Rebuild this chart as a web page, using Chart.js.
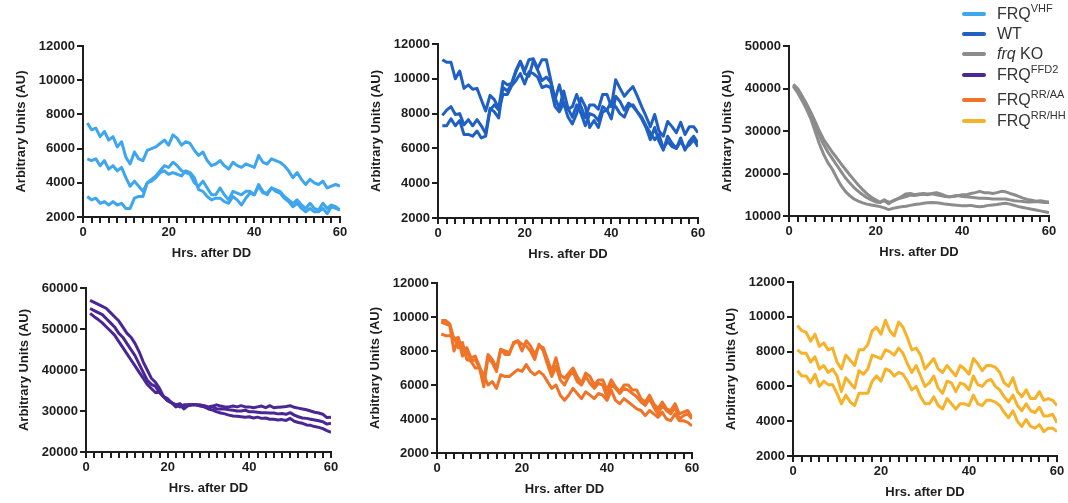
<!DOCTYPE html>
<html lang="en">
<head>
    <meta charset="UTF-8">
    <title>Rhythm traces after DD</title>
    <script src="https://cdn.jsdelivr.net/npm/chart.js@4.4.0/dist/chart.umd.min.js"></script>
    <style>
        html, body { margin: 0; padding: 0; background: #fff; overflow: hidden; }
        body { width: 1068px; height: 503px; position: relative; font-family: "Liberation Sans", Arial, sans-serif; }
        canvas { position: absolute; }
        .item { position: absolute; left: 962px; white-space: nowrap; font-size: 16px; color: #333; line-height: 18px; height: 18px; }
        .swatch { display: inline-block; width: 24px; height: 4px; border-radius: 2px; vertical-align: middle; margin-right: 11px; position: relative; top: -1px; }
        .item sup { font-size: 11px; line-height: 0; position: relative; top: -1px; }
    </style>
</head>
<body>
    <canvas id="p1" width="350" height="231" style="left:0px;top:36px"></canvas>
    <canvas id="p2" width="353" height="234" style="left:355px;top:34px"></canvas>
    <canvas id="p3" width="353" height="230" style="left:706px;top:36px"></canvas>
    <canvas id="p4" width="338" height="224" style="left:3px;top:278px"></canvas>
    <canvas id="p5" width="348" height="230" style="left:354px;top:273px"></canvas>
    <canvas id="p6" width="357" height="234" style="left:710px;top:272px"></canvas>
    <div id="legend"></div>

    <script>
        // hours after transfer to constant darkness
        const hours = [1,2,3,4,5,6,7,8,9,10,11,12,13,14,15,16,17,18,19,20,
            21,22,23,24,25,26,27,28,29,30,31,32,33,34,35,36,37,38,39,40,
            41,42,43,44,45,46,47,48,49,50,51,52,53,54,55,56,57,58,59,60];

        // x tick marks every 2 h, labels only every 20 h
        const xTickMarks = [0,2,4,6,8,10,12,14,16,18,20,22,24,26,28,30,32,34,36,38,40,42,44,46,48,50,52,54,56,58,60];
        const xTickLabels = [0, 20, 40, 60];

        const strainNames = ['FRQ<sup>VHF</sup>', 'WT', '<i>frq</i> KO', 'FRQ<sup>FFD2</sup>', 'FRQ<sup>RR/AA</sup>', 'FRQ<sup>RR/HH</sup>'];
        const strainColors = ['#3ea6ee', '#1f60c2', '#8c8c8c', '#4a2794', '#f07428', '#f5b22a'];

        const vhfA = [7500,7100,7200,6700,7000,6500,6700,6100,6400,5500, 5100,5800,5400,5300,5900,6000,6100,6300,6500,6200,
            6800,6600,6200,6400,6300,5900,5600,5800,5300,5000, 5100,5300,5000,4800,5200,5000,4900,5100,5000,4900,
            5600,5200,5100,5400,5300,5200,5000,4700,4300,4600, 4200,3900,4200,4000,3900,4100,3700,3800,3900,3800];
        const vhfB = [5400,5300,5400,5000,5300,4800,5000,4700,4900,4300, 3800,4100,3800,3500,4000,4200,4400,4700,5000,4900,
            5200,5000,4700,4600,4500,4000,3800,4100,3700,3300, 3300,3700,3300,3000,3500,3400,3300,3500,3500,3300,
            3800,3400,3400,3700,3600,3500,3200,3000,2800,3000, 2700,2500,2800,2500,2400,2800,2500,2700,2600,2400];
        const vhfC = [3200,3000,3100,2800,2900,2700,2900,2700,2800,2500, 2500,3100,3200,3200,4000,4100,4300,4600,4700,4500,
            4600,4500,4400,4700,4600,4300,3600,3500,3200,3000, 3100,3100,2900,2800,3200,3000,2700,3100,3400,3300,
            3900,3500,3300,3700,3500,3400,3100,2900,2600,2800, 2500,2300,2500,2300,2300,2500,2200,2600,2500,2400];

        const wtA = [11100,10950,10950,10000,10450,9450,9650,9400,9450,8800, 8150,9050,8800,8300,9850,9650,9750,10500,11000,10450,
            11100,11150,10600,11100,11100,9950,8800,9650,8600,8250, 8400,9100,8400,7750,8500,8500,8250,9100,9100,8400,
            9950,9450,9000,9300,9550,9000,8400,7850,7250,7950, 7000,6700,7550,7250,6900,7500,6800,7250,7250,6900];
        const wtB = [7900,8200,8400,7950,8000,7350,7650,7300,7650,7300, 6850,8300,8100,7750,9500,9300,9700,10400,11000,10300,
            10150,11050,10500,9900,10100,9800,8900,8300,9300,8300, 7800,8500,8000,7300,8000,7900,7600,8400,8200,7700,
            9000,8700,8200,8600,8400,8100,7700,7200,6500,7200, 6400,5900,6700,6300,6000,6600,5900,6400,6700,6300];
        const wtC = [7300,7300,7700,7300,7600,6800,6800,6700,7000,6600, 6700,8200,8500,8200,9100,9100,9600,9900,10300,9700,
            10400,10300,10100,9500,9600,9500,8400,8100,8600,7800, 7400,8000,8900,8400,7200,7600,7200,8100,8200,8700,
            8400,8000,7800,8400,8500,8100,7800,7300,6900,6500, 6800,6000,6400,6100,6000,6400,6000,6200,6500,6100];

        const koA = [40500,39000,37200,35200,33000,30000,27000,24500,22500,21000, 19000,17200,15800,14800,14000,13500,13100,12800,12600,12400,
            12200,11900,11500,11800,12000,12200,12300,12500,12700,12800, 13000,13100,13200,13100,13000,12800,12700,12600,12500,12400,
            12400,12500,12300,12200,12300,12500,12600,12700,12900,13000, 12800,12500,12200,12000,11800,11600,11400,11200,11000,10800];
        const koB = [40800,39500,37800,35800,33800,31500,29000,26800,25000,23500, 22000,20500,19000,17800,16700,15800,15000,14300,13800,13300,
            13200,13600,12900,13600,14000,14300,14600,14900,14800,15000, 15100,15000,15200,15000,14800,14600,14500,14700,14800,14600,
            14500,14400,14300,14200,14200,14100,14000,14000,14000,14000, 13800,13600,13500,13400,13300,13300,13400,13300,13200,13200];
        const koC = [41000,40000,38300,36500,34500,32300,30000,28000,26500,25000, 23700,22300,21000,19700,18500,17300,16200,15200,14400,13800,
            13200,13800,13200,13500,14000,14600,15200,15300,15000,15200, 15300,15200,15300,15500,15200,14800,14500,14600,14800,15000,
            15000,15300,15500,15800,15500,15500,15300,15500,15800,15700, 15300,15000,14600,14200,13900,13700,13500,13600,13400,13300];

        const ffdA = [57000,56500,56000,55500,55000,54000,53000,52000,50500,49000, 48000,46500,44500,42000,40000,38000,37000,35500,33500,32500,
            32000,31500,31000,31500,31500,31500,31500,31500,31300,31000, 31200,31500,31200,31000,31000,31200,31000,31300,31000,31000,
            30800,31000,31200,30800,31300,30800,30900,31000,31100,31300, 30900,30700,30500,30300,30000,29700,29500,29200,28400,28500];
        const ffdB = [55000,54500,54000,53500,52500,51500,50500,49000,48000,46500, 45000,43500,41500,39500,37500,36500,36000,34500,33500,33000,
            32000,31500,31800,31000,31500,31500,31500,31300,31000,30800, 31000,30500,30500,30500,30300,30200,30000,30000,30200,29800,
            29800,29700,29600,29600,29500,29500,29300,29400,29200,29600, 29000,28600,28300,28200,28000,27800,27600,27400,26800,27000];
        const ffdC = [53800,53000,52300,51500,50500,49500,48500,47000,45500,44000, 42500,41000,39500,38000,36500,35500,34500,34500,33500,32500,
            32000,31000,31500,30500,31300,31500,31500,31200,31000,30500, 30200,29800,29500,29300,29000,28800,28700,28600,28500,28600,
            28300,28500,28200,28300,28000,28000,27800,27900,27700,28200, 27500,27200,27000,26600,26500,26200,26000,25700,25200,24800];

        const aaA = [9800,9800,9600,8700,8800,8000,8200,7600,7700,7100, 6300,7800,7500,7000,8100,8000,7900,8400,8600,8000,
            8600,8300,7800,8300,8200,7500,6800,7600,6600,6400, 6700,7000,6500,6100,6700,6500,6000,6300,6300,5700,
            6300,5900,5600,6000,6000,5700,5700,5200,5000,5400, 4900,4600,5000,4600,4500,4900,4300,4400,4500,4100];
        const aaB = [9700,9600,9500,8000,8700,7700,8000,7400,7500,7000, 5900,7600,7300,6800,8100,7800,7800,8500,8600,8400,
            8300,8000,7500,8400,8000,7200,6500,7100,6300,6000, 6500,6800,6200,6000,6500,6100,5800,6100,6000,5300,
            6000,5800,5500,5800,5700,5500,5300,5000,4800,5200, 4700,4300,4800,4500,4300,4700,4000,4200,4300,4000];
        const aaC = [9000,8900,8900,8800,8200,8500,7500,7400,7000,7000, 6600,6000,6200,5800,6600,6500,6500,6700,6900,6800,
            7200,6800,6600,6800,6600,6200,5800,6000,5400,5100, 5400,5800,5500,5200,5600,5400,5200,5500,5400,5100,
            5700,5100,4900,5200,5000,4800,4600,4500,4200,4500, 4300,4100,4400,4000,3900,4300,3900,3900,3800,3600];

        const hhA = [9500,9200,9100,8600,9000,8300,8500,8100,8200,7400, 7000,7800,7500,7200,8100,8100,8400,9200,9400,9000,
            9800,9200,8900,9700,9400,8800,8100,8200,7800,7000, 7300,7600,7000,6800,7200,6900,6600,7200,7000,6700,
            7600,7300,6900,7200,7200,7100,6800,6200,6000,6500, 5700,5400,5800,5300,5300,5700,5200,5300,5200,4900];
        const hhB = [8100,7900,7900,7400,7700,7000,7200,6800,7000,6600, 5700,6500,6200,5900,6900,6700,7000,7800,7700,7600,
            8100,8000,7800,8200,7900,7300,6800,7200,6600,6000, 6200,6600,5900,5600,6300,6200,5700,6200,6100,5800,
            6600,6100,6000,6300,6400,6000,5800,5400,5100,5500, 4900,4600,5000,4600,4500,4800,4300,4300,4400,3900];
        const hhC = [6900,6600,6600,6200,6700,6000,6300,6100,6100,5600, 5000,5500,5100,4900,5600,5600,5600,6300,6600,6300,
            7000,6900,6600,6800,6700,6300,5800,6000,5400,5000, 5000,5400,4900,4700,5300,5000,4700,5000,5000,4900,
            5500,5000,4900,5200,5200,5100,4900,4500,4200,4600, 4000,3700,4100,3700,3600,3800,3400,3600,3600,3400];

        const yRanges = [[2000, 12000, 2000], [2000, 12000, 2000], [10000, 50000, 10000],
                         [20000, 60000, 10000], [2000, 12000, 2000], [2000, 12000, 2000]];

        const axisColor = '#1e1e1e';
        const boldFont = { family: '"Liberation Sans", Arial, sans-serif', size: 13, weight: 'bold' };

        // outward tick marks on the x axis, every 2 h
        const xTickPlugin = {
            id: 'xTickMarks',
            afterDraw(chart) {
                const ctx = chart.ctx;
                const xs = chart.scales.x;
                const base = chart.chartArea.bottom;
                ctx.save();
                ctx.fillStyle = axisColor;
                xTickMarks.forEach(v => {
                    const px = Math.round(xs.getPixelForValue(v));
                    ctx.fillRect(px - 1, base, 2, 6);
                });
                ctx.restore();
            }
        };

        function makePanel(id, color, lines, range) {
            new Chart(document.getElementById(id), {
                type: 'line',
                data: {
                    datasets: lines.map(vals => ({
                        data: hours.map((h, i) => ({ x: h, y: vals[i] })),
                        borderColor: color,
                        borderWidth: 3,
                        borderJoinStyle: 'round',
                        pointRadius: 0,
                        fill: false,
                        tension: 0
                    }))
                },
                plugins: [xTickPlugin],
                options: {
                    responsive: false,
                    animation: false,
                    layout: { padding: { top: 10, right: 10, left: 0, bottom: 0 } },
                    plugins: { legend: { display: false }, tooltip: { enabled: false } },
                    scales: {
                        x: {
                            type: 'linear',
                            min: 0,
                            max: 60,
                            afterBuildTicks: s => { s.ticks = xTickLabels.map(v => ({ value: v })); },
                            afterFit: s => { s.height = 50; },
                            border: { color: axisColor, width: 2 },
                            grid: { display: true, drawOnChartArea: false, drawTicks: true, tickLength: 6, tickColor: 'rgba(0,0,0,0)', color: 'rgba(0,0,0,0)' },
                            ticks: {
                                autoSkip: false, maxRotation: 0,
                                padding: 2, color: axisColor, font: boldFont,
                                callback: v => String(v)
                            },
                            title: { display: true, text: 'Hrs. after DD', color: axisColor, font: boldFont, padding: { top: 4, bottom: 6 } }
                        },
                        y: {
                            min: range[0],
                            max: range[1],
                            afterFit: s => { s.width = 83; },
                            border: { color: axisColor, width: 2 },
                            grid: { display: true, drawOnChartArea: false, drawTicks: true, color: axisColor, tickColor: axisColor, lineWidth: 2, tickWidth: 2, tickLength: 6 },
                            ticks: { stepSize: range[2], padding: 2, color: axisColor, font: boldFont, callback: v => String(v) },
                            title: { display: true, text: 'Arbitrary Units (AU)', color: axisColor, font: boldFont, padding: { top: 14, bottom: 0 } }
                        }
                    }
                }
            });
        }

        makePanel('p1', strainColors[0], [vhfA, vhfB, vhfC], yRanges[0]);
        makePanel('p2', strainColors[1], [wtA, wtB, wtC], yRanges[1]);
        makePanel('p3', strainColors[2], [koA, koB, koC], yRanges[2]);
        makePanel('p4', strainColors[3], [ffdA, ffdB, ffdC], yRanges[3]);
        makePanel('p5', strainColors[4], [aaA, aaB, aaC], yRanges[4]);
        makePanel('p6', strainColors[5], [hhA, hhB, hhC], yRanges[5]);

        // legend with superscripts, top right
        const legendRows = [14, 34, 54, 75, 100, 121];
        const legend = document.getElementById('legend');
        strainNames.forEach((name, i) => {
            const row = document.createElement('div');
            row.className = 'item';
            row.style.top = (legendRows[i] - 9) + 'px';
            row.innerHTML = '<span class="swatch" style="background:' + strainColors[i] + '"></span>' + name;
            legend.appendChild(row);
        });
    </script>
</body>
</html>
